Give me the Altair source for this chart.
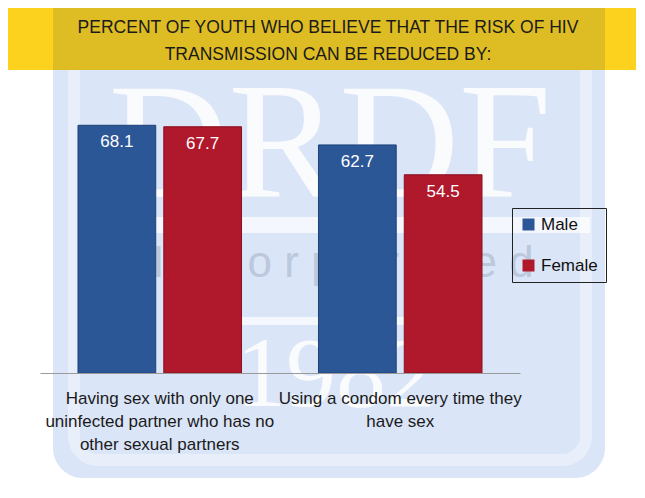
import json
import altair as alt
import pandas as pd

FONT = "Liberation Sans"

categories = [
    "Having sex with only one uninfected partner who has no other sexual partners",
    "Using a condom every time they have sex",
]
category_lines = [
    ["Having sex with only one", "uninfected partner who has no", "other sexual partners"],
    ["Using a condom every time they", "have sex"],
]
genders = ["Male", "Female"]
male_values = [68.1, 62.7]
female_values = [67.7, 54.5]
bar_colors = ["#2B5797", "#B0182B"]
bar_strokes = ["#1E4278", "#8A1020"]
title_lines = ["PERCENT OF YOUTH WHO BELIEVE THAT THE RISK OF HIV",
               "TRANSMISSION CAN BE REDUCED BY:"]

rows = []
for i, c in enumerate(categories):
    rows.append({"Category": c, "Gender": "Male", "Value": male_values[i]})
    rows.append({"Category": c, "Gender": "Female", "Value": female_values[i]})
df = pd.DataFrame(rows)

label_expr = "datum.value == " + json.dumps(categories[0]) + " ? " + json.dumps(category_lines[0]) + \
             " : " + json.dumps(category_lines[1])

one = pd.DataFrame({"k": [0]})

# ---- decorations (title band and watermark) ----
bg = alt.Chart(one).mark_rect(fill="#DAE5F8", cornerRadius=30).encode(
    x=alt.value(13), x2=alt.value(565), y=alt.value(-74), y2=alt.value(396))
frame = alt.Chart(one).mark_rect(fill=None, stroke="#E8EFFB", strokeWidth=12, cornerRadius=24).encode(
    x=alt.value(34), x2=alt.value(546), y=alt.value(-60), y2=alt.value(378))
band_outer = alt.Chart(one).mark_rect(fill="#FCD21F").encode(
    x=alt.value(-33), x2=alt.value(598), y=alt.value(-74), y2=alt.value(-12))
band_inner = alt.Chart(one).mark_rect(fill="#DEBD24").encode(
    x=alt.value(13), x2=alt.value(565), y=alt.value(-74), y2=alt.value(-12))
wm_drdf = alt.Chart(one).mark_text(font="Liberation Serif", fontSize=166, color="#FFFFFF",
                                   align="center", baseline="alphabetic", opacity=0.85).encode(
    x=alt.value(290), y=alt.value(115), text=alt.value("DRDF"))
wm_band1 = alt.Chart(one).mark_rect(fill="#FFFFFF", opacity=0.7).encode(
    x=alt.value(43), x2=alt.value(550), y=alt.value(135), y2=alt.value(151))
wm_inc = alt.Chart(one).mark_text(font="Liberation Sans", fontSize=44, color="#BCC8DC",
                                  align="center", baseline="alphabetic").encode(
    x=alt.value(303), y=alt.value(195), text=alt.value("I  n  c  o  r  p  o  r  a  t  e  d"))
wm_band2 = alt.Chart(one).mark_rect(fill="#FFFFFF", opacity=0.7).encode(
    x=alt.value(180), x2=alt.value(400), y=alt.value(235), y2=alt.value(243))
wm_year = alt.Chart(one).mark_text(font="Liberation Serif", fontSize=100, color="#FFFFFF",
                                   align="center", baseline="alphabetic", opacity=0.85).encode(
    x=alt.value(296), y=alt.value(324), text=alt.value("1982"))
title = alt.Chart(one).mark_text(font=FONT, fontSize=17.5, color="#1A1A1A", align="center",
                                 baseline="middle", lineHeight=27).encode(
    x=alt.value(288), y=alt.value(-54), text=alt.value(title_lines))

# ---- data layers ----
base = alt.Chart(df).encode(
    x=alt.X("Category:N", sort=categories,
            scale=alt.Scale(paddingInner=0.32, paddingOuter=0.158),
            axis=alt.Axis(title=None, labelAngle=0, labelExpr=label_expr, labelFont=FONT,
                          labelFontSize=17, labelColor="#1A1A1A", labelLineHeight=23,
                          labelPadding=17, ticks=False, domainColor="#9A9A9A",
                          domainWidth=1, labelLimit=0, zindex=1)),
    xOffset=alt.XOffset("Gender:N", sort=genders,
                        scale=alt.Scale(paddingInner=0.094, paddingOuter=0)),
    y=alt.Y("Value:Q", scale=alt.Scale(domain=[0, 80]), axis=None),
)

bars = base.mark_bar(strokeWidth=1).encode(
    color=alt.Color("Gender:N", sort=genders,
                    scale=alt.Scale(domain=genders, range=bar_colors),
                    legend=alt.Legend(title=None, orient="none", legendX=472, legendY=126,
                                      symbolType="square", symbolSize=144, labelFont=FONT,
                                      labelFontSize=17, labelColor="#111111",
                                      strokeColor="#222222", padding=8, rowPadding=23,
                                      labelOffset=4, symbolStrokeWidth=0)),
    stroke=alt.Stroke("Gender:N", sort=genders,
                      scale=alt.Scale(domain=genders, range=bar_strokes), legend=None),
)

labels = base.mark_text(font=FONT, fontSize=17, color="#FFFFFF", baseline="middle",
                        dy=17).encode(text=alt.Text("Value:Q", format=".1f"))

chart = alt.layer(
    bg, frame, band_outer, band_inner, wm_drdf, wm_band1, wm_inc, wm_band2, wm_year,
    title, bars, labels
).properties(
    width=480, height=291,
    autosize=alt.AutoSizeParams(type="none"),
    padding={"left": 32, "top": 74, "right": 116, "bottom": 110},
).configure_view(stroke=None)

chart.save("out.html", embed_options={"renderer": "svg", "actions": False})
